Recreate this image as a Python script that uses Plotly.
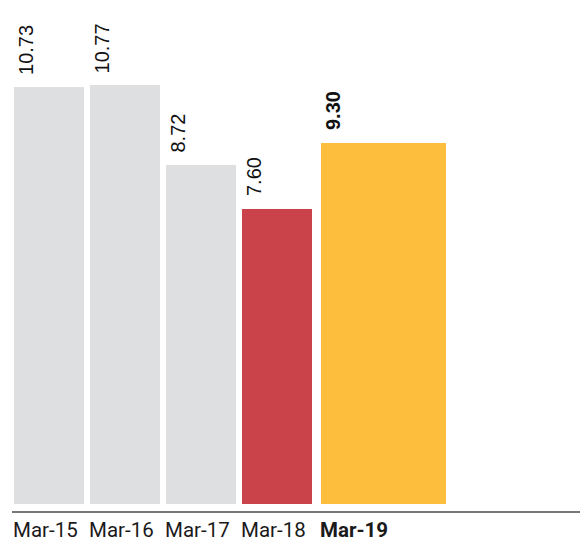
import plotly.graph_objects as go

# ---- data ----
categories = ["Mar-15", "Mar-16", "Mar-17", "Mar-18", "Mar-19"]
values = [10.73, 10.77, 8.72, 7.60, 9.30]
value_labels = ["10.73", "10.77", "8.72", "7.60", "9.30"]
highlight = [False, False, False, False, True]

# ---- styles / layout ----
colors = ["#dedfe1", "#dedfe1", "#dedfe1", "#cb434a", "#fdbe3e"]
widths = [70, 70, 70, 70, 125]
gaps = [2, 6, 6, 6, 9]  # space before each bar (in x units = px)

lefts = []
pos = 0
for w, g in zip(widths, gaps):
    pos += g
    lefts.append(pos)
    pos += w
centers = [l + w / 2 for l, w in zip(lefts, widths)]

fig = go.Figure()
fig.add_trace(go.Bar(
    x=centers, y=values, width=widths,
    marker=dict(color=colors, line=dict(width=0)),
    hoverinfo="skip", showlegend=False,
))

annotations = []
for l, v, t, h in zip(lefts, values, value_labels, highlight):
    annotations.append(dict(
        x=l, y=v, xref="x", yref="y",
        text=f"<b>{t}</b>" if h else t,
        textangle=-90, showarrow=False,
        xanchor="left", yanchor="bottom",
        xshift=-1, yshift=10,
        font=dict(family="Liberation Sans, Arial, sans-serif", size=20, color="#111111"),
    ))
for l, c, h in zip(lefts, categories, highlight):
    annotations.append(dict(
        x=l, y=0, xref="x", yref="paper",
        text=f"<b>{c}</b>" if h else c,
        showarrow=False, xanchor="left", yanchor="top",
        xshift=-3, yshift=-5,
        font=dict(family="Roboto, sans-serif", size=20.5, color="#1a1a1a"),
    ))

fig.update_layout(
    width=586, height=543,
    margin=dict(l=12, r=6, t=0, b=32, autoexpand=False),
    paper_bgcolor="white", plot_bgcolor="white",
    bargap=0,
    xaxis=dict(range=[0, 568], showgrid=False, zeroline=False, showticklabels=False,
               ticks="", showline=True, linecolor="#777777", linewidth=1.5, fixedrange=True),
    yaxis=dict(range=[-0.188, 12.97], visible=False, fixedrange=True),
    annotations=annotations,
)

fig.write_html("out.html", config={"displayModeBar": False},
               post_script="document.body.style.margin='0';document.body.style.overflow='hidden';")
